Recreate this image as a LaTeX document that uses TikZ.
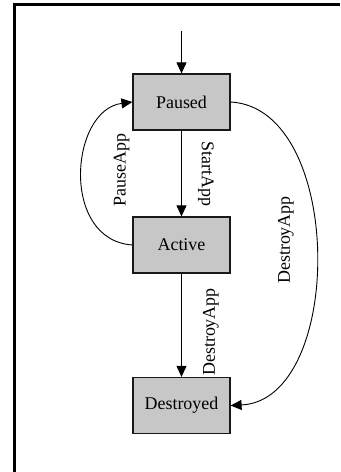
\documentclass[tikz,border=0pt]{standalone}
\usepackage{fontspec}
\setmainfont{Liberation Serif}
\usetikzlibrary{arrows.meta}
\begin{document}
\begin{tikzpicture}[x=1bp,y=-1bp,
  state/.style={draw=black!90,line width=1.2bp,fill=black!22,minimum width=97bp,minimum height=56bp,inner sep=0pt,font=\fontsize{18}{20}\selectfont},
  conn/.style={line width=0.9bp,-{Triangle[width=10bp,length=11bp]}},
  lbl/.style={font=\fontsize{18}{20}\selectfont,inner sep=0pt}]
\useasboundingbox (0,0) rectangle (340,472);
\fill[white] (0,0) rectangle (340,472);
\draw[line width=3bp] (14.5,472) -- (14.5,4.5) -- (340,4.5);
\node[state] (paused) at (181.5,102) {Paused};
\node[state] (active) at (181.5,245) {Active};
\node[state] (destroyed) at (181.5,405.5) {Destroyed};
\coordinate (init) at (181.5,31);
\draw[conn] (init) -- (paused.north);
\draw[conn] (paused.south) -- (active.north);
\draw[conn] (active.south) -- (destroyed.north);
\draw[conn] (active.west) .. controls (60,240) and (70,110) .. (paused.west);
\draw[conn] (paused.east) .. controls (345,108) and (345,400) .. (destroyed.east);
\node[lbl,rotate=90] (l1) at (121.5,170) {PauseApp};
\node[lbl,rotate=-90] (l2) at (206,174) {StartApp};
\node[lbl,rotate=90] (l3) at (211,332) {DestroyApp};
\node[lbl,rotate=90] (l4) at (286,240) {DestroyApp};
\end{tikzpicture}
\end{document}
